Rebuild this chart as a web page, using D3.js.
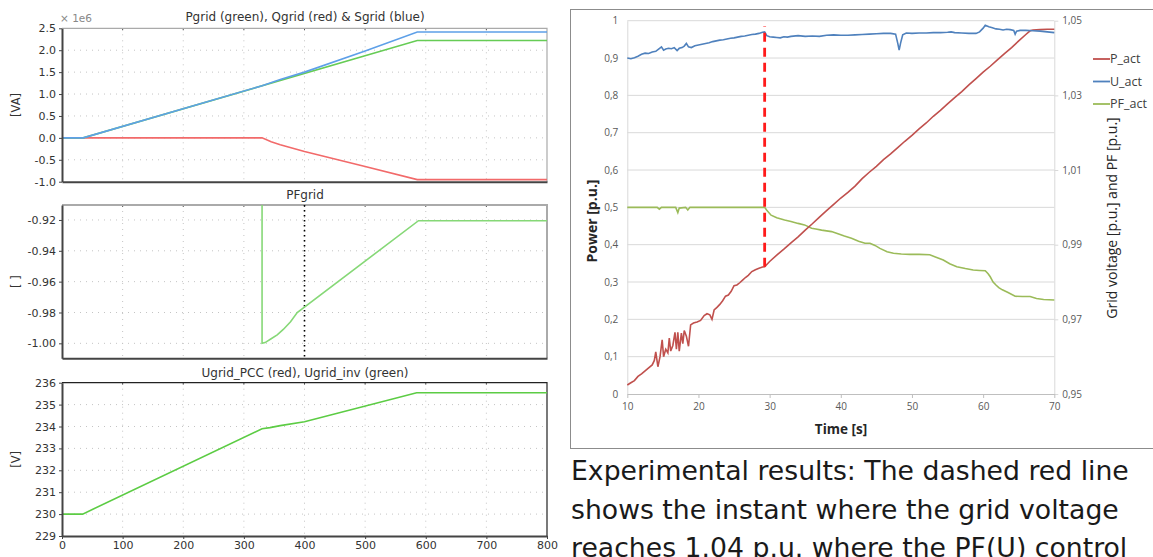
<!DOCTYPE html>
<html><head><meta charset="utf-8">
<script src="https://cdn.jsdelivr.net/npm/d3@7"></script>
<style>body{margin:0;background:#fff} svg{display:block}</style>
</head><body><svg id="c" width="1153" height="557"></svg>
<script>
// ---------- simulation panels (left) ----------
const simXTicks = [0,100,200,300,400,500,600,700,800];
const powerTicks = [-1.0,-0.5,0,0.5,1.0,1.5,2.0,2.5];
const pfTicks = [-1.00,-0.98,-0.96,-0.94,-0.92];
const voltTicks = [229,230,231,232,233,234,235,236];
const pgrid = [[0,0],[35,0],[586,2.22],[800,2.22]];
const qgrid = [[0,0],[330,0],[345,-0.09],[360,-0.155],[400,-0.313],[500,-0.655],[586,-0.952],[800,-0.952]];
const sgrid = [[0,0],[35,0],[330,1.19],[360,1.33],[400,1.50],[500,1.98],[586,2.415],[800,2.415]];
const pfgrid = [[330,-0.85],[330,-1.0],[335,-0.9995],[345,-0.997],[355,-0.9945],[365,-0.991],[377,-0.986],[388,-0.980],[588,-0.9205],[800,-0.9205]];
const ugridInv = [[0,230],[34,230],[330,233.9],[343,233.95],[360,234.04],[400,234.22],[585,235.54],[800,235.54]];
const pfMarker = [400];

// ---------- experimental chart (right) ----------
const timeTicks = [10,20,30,40,50,60,70];
const powerPuTicks = [0,0.1,0.2,0.3,0.4,0.5,0.6,0.7,0.8,0.9,1];
const voltPuTicks = [0.95,0.97,0.99,1.01,1.03,1.05];
const legendNames = ["P_act","U_act","PF_act"];
const pAct = [[10,0.024],[10.5,0.03],[11,0.036],[11.5,0.047],[12,0.054],[12.5,0.062],[13,0.07],[13.5,0.078],[13.8,0.09],[14.0,0.113],[14.3,0.073],[14.6,0.1],[14.9,0.145],[15.1,0.10],[15.4,0.12],[15.7,0.11],[15.9,0.15],[16.1,0.115],[16.4,0.13],[16.7,0.165],[16.9,0.12],[17.1,0.165],[17.3,0.115],[17.6,0.163],[17.8,0.135],[18.0,0.17],[18.3,0.155],[18.6,0.128],[18.9,0.185],[19.3,0.19],[19.8,0.193],[20.3,0.197],[20.8,0.21],[21.2,0.215],[21.6,0.212],[21.9,0.2],[22.2,0.225],[22.6,0.232],[23.0,0.24],[23.4,0.25],[23.8,0.262],[24.2,0.265],[24.6,0.275],[25.0,0.29],[25.4,0.292],[25.8,0.298],[26.2,0.305],[26.6,0.312],[27.0,0.318],[27.5,0.328],[28.0,0.333],[28.5,0.337],[29.0,0.34],[29.3,0.341],[30,0.355],[31,0.372],[32,0.388],[33,0.405],[34,0.421],[35,0.439],[36,0.456],[37,0.474],[38,0.491],[39,0.508],[40,0.525],[41,0.54],[42,0.557],[43,0.577],[44,0.594],[45,0.61],[46,0.628],[47,0.643],[48,0.66],[49,0.677],[50,0.693],[51,0.71],[52,0.726],[53,0.744],[54,0.76],[55,0.777],[56,0.794],[57,0.81],[58,0.828],[59,0.845],[60,0.862],[61,0.878],[62,0.895],[63,0.912],[64,0.928],[65,0.946],[66,0.963],[66.6,0.973],[67,0.975],[68,0.976],[69,0.977],[70,0.977]];
const uAct = [[10,1.0400],[10.5,1.0398],[11,1.0401],[11.5,1.0405],[12,1.0410],[12.5,1.0413],[13,1.0412],[13.5,1.0416],[14.0,1.0418],[14.4,1.0424],[14.8,1.0430],[15.1,1.0421],[15.4,1.0424],[15.8,1.0426],[16.2,1.0425],[16.6,1.0428],[17.0,1.0420],[17.3,1.0426],[17.7,1.0428],[18.0,1.0432],[18.3,1.0439],[18.6,1.0430],[19.0,1.0428],[19.5,1.0433],[20.0,1.0435],[20.5,1.0437],[21.0,1.0439],[21.5,1.0441],[22,1.0444],[22.5,1.0446],[23,1.0448],[23.5,1.0449],[24,1.0451],[24.5,1.0453],[25,1.0454],[25.5,1.0456],[26,1.0458],[26.5,1.0459],[27,1.0461],[27.5,1.0463],[28,1.0464],[28.5,1.0466],[29.0,1.0469],[29.3,1.0470],[29.6,1.0460],[30,1.0457],[30.5,1.0456],[31,1.0455],[31.5,1.0454],[32,1.0457],[32.5,1.0456],[33,1.0458],[34,1.0460],[35,1.0458],[36,1.0459],[37,1.0458],[38,1.0461],[39,1.0462],[40,1.0461],[41,1.0461],[42,1.0462],[43,1.0463],[44,1.0464],[45,1.0465],[46,1.0466],[47,1.0466],[47.7,1.0464],[48.0,1.0440],[48.2,1.0421],[48.4,1.0440],[48.7,1.0462],[49.2,1.0467],[50,1.0466],[51,1.0467],[52,1.0467],[53,1.0468],[54,1.0468],[55,1.0469],[55.5,1.0470],[56,1.0468],[57,1.0467],[58,1.0466],[59,1.0466],[59.5,1.0470],[60,1.0480],[60.3,1.0488],[60.8,1.0484],[61.3,1.0481],[61.8,1.0478],[62.3,1.0477],[62.8,1.0475],[63.3,1.0477],[63.8,1.0476],[64.3,1.0474],[64.5,1.0464],[64.7,1.0472],[65.2,1.0474],[66,1.0474],[67,1.0473],[68,1.0472],[69,1.0470],[70,1.0468]];
const pfAct = [[10,1.000],[14.2,1.000],[14.5,0.9995],[14.8,1.0],[16.8,1.0],[17.1,0.9986],[17.3,0.9998],[18.2,1.0],[18.5,0.9993],[18.8,1.0],[29.3,1.0],[29.6,0.9992],[30.2,0.9979],[31,0.9972],[32.1,0.9966],[33,0.9962],[34,0.9957],[34.9,0.9953],[35.9,0.9944],[36.5,0.9942],[37.3,0.9939],[38,0.9937],[38.7,0.9935],[39.5,0.9930],[40.5,0.9923],[41.5,0.9917],[42.5,0.9909],[43.4,0.9904],[44.1,0.9904],[44.8,0.9898],[45.5,0.9890],[46.5,0.9881],[47.4,0.9877],[48.5,0.9875],[49.7,0.9874],[51,0.9874],[52.5,0.9873],[53.2,0.9868],[54.4,0.9859],[55.3,0.9849],[56.3,0.9841],[57.5,0.9836],[58.6,0.9832],[59.5,0.9831],[60.3,0.9830],[60.7,0.9822],[61.0,0.9814],[61.4,0.9800],[61.8,0.9792],[62.2,0.9785],[62.7,0.9779],[63.5,0.9772],[64.5,0.9762],[65.5,0.9761],[66.6,0.9761],[67.5,0.9756],[68.5,0.9753],[70,0.9752]];
const switchInstant = [[29.3,0.341],[29.3,0.985]];
const captionLines = ["Experimental results: The dashed red line","shows the instant where the grid voltage","reaches 1.04 p.u. where the PF(U) control"];

const svg = d3.select("#c");
svg.append("rect").attr("width",1153).attr("height",557).attr("fill","#fff");
const F = "'DejaVu Sans', Verdana, sans-serif";

// ===== left panels =====
const xs = d3.scaleLinear().domain([0,800]).range([62,547]);
const panels = [
 {id:"p1",title:"Pgrid (green), Qgrid (red) & Sgrid (blue)",top:28.3,bottom:181.7,domain:[-1,2.5],ticks:powerTicks,fmt:d=>d.toFixed(1),ylabel:"[VA]",series:[[qgrid,"#f26a6a"],[pgrid,"#66cc55"],[sgrid,"#5ea0e8"]],titleY:21},
 {id:"p2",title:"PFgrid",top:205,bottom:358.3,domain:[-1.0097,-0.9103],ticks:pfTicks,fmt:d=>d.toFixed(2),ylabel:"[ ]",series:[[pfgrid,"#86d877"]],titleY:199,marker:true},
 {id:"p3",title:"Ugrid_PCC (red), Ugrid_inv (green)",top:382.7,bottom:536,domain:[229,236],ticks:voltTicks,fmt:d=>String(d),ylabel:"[V]",series:[[ugridInv,"#5ccc44"]],titleY:377,xlabels:true}
];
panels.forEach(p=>{
  const y = d3.scaleLinear().domain(p.domain).range([p.bottom,p.top]);
  const g = svg.append("g");
  g.selectAll("line.vg").data(simXTicks.slice(1,-1)).join("line")
    .attr("x1",d=>xs(d)).attr("x2",d=>xs(d)).attr("y1",p.top).attr("y2",p.bottom)
    .attr("stroke","#c4c4c4").attr("stroke-dasharray","1,5");
  g.selectAll("line.hg").data(p.ticks.filter(t=>y(t)>p.top+2 && y(t)<p.bottom-2)).join("line")
    .attr("x1",62).attr("x2",547).attr("y1",d=>y(d)).attr("y2",d=>y(d))
    .attr("stroke","#c4c4c4").attr("stroke-dasharray","1,5");
  g.selectAll("line.tt").data(simXTicks.slice(1,-1)).join("line")
    .attr("x1",d=>xs(d)).attr("x2",d=>xs(d)).attr("y1",p.top).attr("y2",p.top+2)
    .attr("stroke","#555");
  g.append("path").attr("d",`M62,${p.top}H547V${p.bottom}`).attr("fill","none")
    .attr("stroke",p.id==="p3"?"#222":"#aaa").attr("stroke-width",p.id==="p2"?2:1.2);
  svg.append("clipPath").attr("id","cl"+p.id).append("rect")
    .attr("x",62).attr("y",p.top).attr("width",485).attr("height",p.bottom-p.top);
  if(p.marker){
    g.selectAll("line.mk").data(pfMarker).join("line")
      .attr("x1",d=>xs(d)).attr("x2",d=>xs(d)).attr("y1",p.top).attr("y2",p.bottom)
      .attr("stroke","#000").attr("stroke-width",1.6).attr("stroke-dasharray","1.6,3.4");
  }
  const line = d3.line().x(d=>xs(d[0])).y(d=>y(d[1]));
  p.series.forEach(([data,col])=>{
    g.append("path").datum(data).attr("d",line).attr("fill","none")
      .attr("stroke",col).attr("stroke-width",1.6).attr("clip-path",`url(#cl${p.id})`);
  });
  const ya = g.append("g").attr("transform","translate(62,0)")
    .call(d3.axisLeft(y).tickValues(p.ticks).tickFormat(p.fmt).tickSize(3).tickSizeOuter(0));
  ya.select(".domain").attr("stroke","#444").attr("stroke-width",2);
  ya.selectAll(".tick line").attr("stroke","#444");
  ya.selectAll("text").attr("font-family",F).attr("font-size",11).attr("fill","#333").attr("x",-6);
  const xa = g.append("g").attr("transform",`translate(0,${p.bottom})`)
    .call(d3.axisBottom(xs).tickValues(simXTicks).tickFormat(p.xlabels?d3.format("d"):"").tickSize(p.xlabels?3:0).tickSizeOuter(0));
  xa.select(".domain").attr("stroke","#444").attr("stroke-width",2);
  xa.selectAll(".tick line").attr("stroke","#444");
  xa.selectAll("text").attr("font-family",F).attr("font-size",11).attr("fill","#333").attr("y",5);
  g.append("text").attr("x",305).attr("y",p.titleY).attr("text-anchor","middle")
    .attr("font-family",F).attr("font-size",12).attr("fill","#333").text(p.title);
  const ym = (p.top+p.bottom)/2;
  g.append("text").attr("transform",`translate(20,${ym}) rotate(-90)`).attr("text-anchor","middle")
    .attr("font-family",F).attr("font-size",11.5).attr("fill","#333").text(p.ylabel);
});
svg.append("text").attr("x",60).attr("y",22).attr("font-family",F).attr("font-size",10.5)
  .attr("fill","#888").text("× 1e6");

// ===== right chart =====
const FR = "'Open Sans', 'Liberation Sans', sans-serif";
const xr = d3.scaleLinear().domain([10,70]).range([627.3,1054.3]);
const yl = d3.scaleLinear().domain([0,1]).range([394,20.7]);
const yr = d3.scaleLinear().domain([0.95,1.05]).range([394,20.7]);
const rg = svg.append("g");
rg.append("rect").attr("x",570.5).attr("y",9.5).attr("width",620).attr("height",439)
  .attr("fill","none").attr("stroke","#8c8c8c");
rg.selectAll("line.g").data(powerPuTicks.slice(1)).join("line")
  .attr("x1",627.3).attr("x2",1054.3).attr("y1",d=>yl(d)).attr("y2",d=>yl(d))
  .attr("stroke","#d9d9d9");
const la = rg.append("g").attr("transform","translate(627.3,0)")
  .call(d3.axisLeft(yl).tickValues(powerPuTicks).tickFormat(d=>d===0?"0":d===1?"1":d.toFixed(1).replace(".",",")).tickSize(0).tickSizeOuter(0));
la.select(".domain").attr("stroke","#d9d9d9");
la.selectAll("text").attr("font-family",FR).attr("font-size",10).attr("fill","#595959").attr("x",-9);
const ra = rg.append("g").attr("transform","translate(1054.3,0)")
  .call(d3.axisRight(yr).tickValues(voltPuTicks).tickFormat(d=>d.toFixed(2).replace(".",",")).tickSize(4).tickSizeOuter(0));
ra.select(".domain").attr("stroke","#d9d9d9");
ra.selectAll(".tick line").attr("stroke","#d9d9d9");
ra.selectAll("text").attr("font-family",FR).attr("font-size",10).attr("fill","#595959").attr("x",8);
const ba = rg.append("g").attr("transform","translate(0,394)")
  .call(d3.axisBottom(xr).tickValues(timeTicks).tickFormat(d3.format("d")).tickSize(4).tickSizeOuter(0));
ba.select(".domain").attr("stroke","#bfbfbf");
ba.selectAll(".tick line").attr("stroke","#bfbfbf");
ba.selectAll("text").attr("font-family",FR).attr("font-size",10).attr("fill","#595959").attr("y",9);
rg.append("text").attr("x",841).attr("y",434).attr("text-anchor","middle").attr("font-family",FR)
  .attr("font-weight","bold").attr("font-size",13.5).attr("fill","#262626").text("Time [s]");
rg.append("text").attr("transform","translate(597,221) rotate(-90)").attr("text-anchor","middle").attr("font-family",FR)
  .attr("font-weight","bold").attr("font-size",14).attr("fill","#262626").text("Power [p.u.]");
rg.append("text").attr("transform","translate(1117,218) rotate(-90)").attr("text-anchor","middle").attr("font-family",FR)
  .attr("font-size",14).attr("fill","#262626").text("Grid voltage [p.u.] and PF [p.u.]");
const lP = d3.line().x(d=>xr(d[0])).y(d=>yl(d[1]));
const lR = d3.line().x(d=>xr(d[0])).y(d=>yr(d[1]));
const colors = ["#c0504d","#4f81bd","#9bbb59"];
rg.append("path").datum(pfAct).attr("d",lR).attr("fill","none").attr("stroke",colors[2]).attr("stroke-width",1.6);
rg.append("path").datum(pAct).attr("d",lP).attr("fill","none").attr("stroke",colors[0]).attr("stroke-width",1.6);
rg.append("path").datum(uAct).attr("d",lR).attr("fill","none").attr("stroke",colors[1]).attr("stroke-width",1.6);
rg.append("path").datum(switchInstant).attr("d",lP).attr("fill","none").attr("stroke","#ff1a1a")
  .attr("stroke-width",2.8).attr("stroke-dasharray","9,6");
legendNames.forEach((n,i)=>{
  const yy = 59 + i*22.5;
  rg.append("line").attr("x1",1093).attr("x2",1110).attr("y1",yy).attr("y2",yy).attr("stroke",colors[i]).attr("stroke-width",1.8);
  rg.append("text").attr("x",1110).attr("y",yy).attr("dy","0.35em").attr("font-family",FR).attr("font-size",12.5)
    .attr("fill","#404040").text(n);
});
captionLines.forEach((t,i)=>{
  svg.append("text").attr("x",571).attr("y",480+i*38.5).attr("font-family",F).attr("font-size",26.7)
    .attr("fill","#1a1a1a").text(t);
});
</script></body></html>
